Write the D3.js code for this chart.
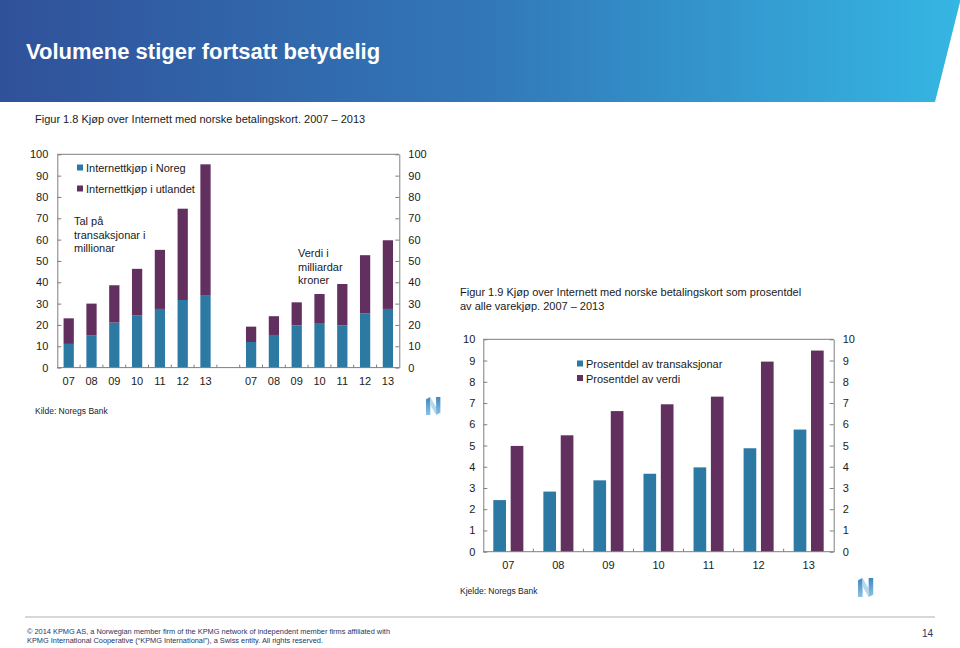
<!DOCTYPE html>
<html>
<head>
<meta charset="utf-8">
<script src="https://cdn.jsdelivr.net/npm/d3@7"></script>
<style>
html,body{margin:0;padding:0;background:#fff;}
svg{display:block;font-family:"Liberation Sans",Arial,sans-serif;}
</style>
</head>
<body>
<svg id="chart" width="960" height="648"></svg>
<script>
// ---------- DATA ----------
const years = ["07","08","09","10","11","12","13"];
// Figur 1.8 — transaksjonar (millionar)
const txNoreg   = [11.1, 15.2, 21.1, 24.4, 27.5, 31.7, 33.7];
const txUtland  = [12.0, 14.8, 17.5, 21.9, 27.7, 42.8, 61.6];
// Figur 1.8 — verdi (milliardar kroner)
const valNoreg  = [12.0, 15.3, 19.8, 20.9, 19.8, 25.5, 27.5];
const valUtland = [7.2, 8.8, 10.8, 13.6, 19.4, 27.2, 32.2];
// Figur 1.9 — prosentdel
const pctTx  = [2.43, 2.83, 3.36, 3.67, 3.97, 4.87, 5.75];
const pctVal = [4.98, 5.48, 6.62, 6.94, 7.30, 8.95, 9.47];
const yTicks1 = [0,10,20,30,40,50,60,70,80,90,100];
const yTicks2 = [0,1,2,3,4,5,6,7,8,9,10];
const legend1 = ["Internettkjøp i Noreg","Internettkjøp i utlandet"];
const legend2 = ["Prosentdel av transaksjonar","Prosentdel av verdi"];

const BLUE = "#2c79a3", PURPLE = "#62305f", AXIS = "#7f7f7f", TXT = "#1a1a1a";
const FS = 11;

const svg = d3.select("#chart");

// ---------- HEADER ----------
const defs = svg.append("defs");
const grad = defs.append("linearGradient").attr("id","hdr").attr("x1","0").attr("x2","1").attr("y1","0").attr("y2","0");
grad.append("stop").attr("offset","0").attr("stop-color","#30519a");
grad.append("stop").attr("offset","0.5").attr("stop-color","#3277b8");
grad.append("stop").attr("offset","1").attr("stop-color","#35b6e3");
svg.append("path").attr("d","M0,0 L960,0 L960,2 L935,102 L0,102 Z").attr("fill","url(#hdr)");
svg.append("text").attr("x",26).attr("y",59).attr("fill","#fff")
  .attr("font-size",22).attr("font-weight","bold").text("Volumene stiger fortsatt betydelig");

// ---------- CHART 1 ----------
const c1 = {left:57.3, right:399.3, top:154.3, bottom:367.6};
const slots = years.map(d=>"a"+d).concat(["gap"]).concat(years.map(d=>"b"+d));
const x1 = d3.scaleBand().domain(slots).range([c1.left,c1.right]).paddingInner(0.55).paddingOuter(0.275);
const y1 = d3.scaleLinear().domain([0,100]).range([c1.bottom,c1.top]);

svg.append("text").attr("x",35).attr("y",123).attr("font-size",FS).attr("fill",TXT)
  .text("Figur 1.8 Kjøp over Internett med norske betalingskort. 2007 – 2013");

function stackedGroup(prefix, noreg, utl){
  years.forEach((yr,i)=>{
    const x = x1(prefix+yr), w = x1.bandwidth();
    svg.append("rect").attr("x",x).attr("width",w)
      .attr("y",y1(noreg[i])).attr("height",y1(0)-y1(noreg[i])).attr("fill",BLUE);
    svg.append("rect").attr("x",x).attr("width",w)
      .attr("y",y1(noreg[i]+utl[i])).attr("height",y1(noreg[i])-y1(noreg[i]+utl[i])).attr("fill",PURPLE);
  });
}
stackedGroup("a",txNoreg,txUtland);
stackedGroup("b",valNoreg,valUtland);

function frame(c){
  svg.append("line").attr("x1",c.left).attr("x2",c.right).attr("y1",c.top).attr("y2",c.top)
    .attr("stroke",AXIS).attr("stroke-width",1);
}
frame(c1);

function styleAxis(g){
  g.selectAll("path.domain").attr("stroke",AXIS);
  g.selectAll(".tick line").attr("stroke",AXIS);
  g.selectAll("text").attr("fill",TXT).attr("font-family","Liberation Sans, Arial, sans-serif").attr("font-size",FS);
}
styleAxis(svg.append("g").attr("transform",`translate(${c1.left},0)`)
  .call(d3.axisLeft(y1).tickValues(yTicks1).tickSizeInner(-4).tickSizeOuter(0).tickPadding(9)));
styleAxis(svg.append("g").attr("transform",`translate(${c1.right},0)`)
  .call(d3.axisRight(y1).tickValues(yTicks1).tickSizeInner(-4).tickSizeOuter(0).tickPadding(9)));
// x axis: line + ticks at slot boundaries + labels
const xa1 = svg.append("g");
xa1.append("line").attr("x1",c1.left).attr("x2",c1.right).attr("y1",c1.bottom).attr("y2",c1.bottom).attr("stroke",AXIS);
const step1 = x1.step();
d3.range(1,slots.length).forEach(k=>{
  const xx = c1.left + k*step1;
  xa1.append("line").attr("x1",xx).attr("x2",xx).attr("y1",c1.bottom).attr("y2",c1.bottom-3).attr("stroke",AXIS);
});
slots.filter(s=>s!=="gap").forEach(s=>{
  xa1.append("text").attr("x",x1(s)+x1.bandwidth()/2).attr("y",385).attr("text-anchor","middle")
    .attr("font-size",FS).attr("fill",TXT).text(s.slice(1));
});

// legend 1
legend1.forEach((t,i)=>{
  const yy = 168 + i*21;
  svg.append("rect").attr("x",77).attr("y",yy-3.5).attr("width",6).attr("height",6).attr("fill",i===0?BLUE:PURPLE);
  svg.append("text").attr("x",86).attr("y",yy+4).attr("font-size",FS).attr("fill",TXT).text(t);
});
// annotations
[["Tal på",225],["transaksjonar i",239],["millionar",252]].forEach(([t,y])=>
  svg.append("text").attr("x",74).attr("y",y).attr("font-size",FS).attr("fill",TXT).text(t));
[["Verdi i",257],["milliardar",270.5],["kroner",284]].forEach(([t,y])=>
  svg.append("text").attr("x",298).attr("y",y).attr("font-size",FS).attr("fill",TXT).text(t));
svg.append("text").attr("x",35).attr("y",414).attr("font-size",8.5).attr("fill",TXT).text("Kilde: Noregs Bank");

// ---------- CHART 2 ----------
const c2 = {left:483.3, right:833.7, top:339.3, bottom:551.7};
const x2 = d3.scaleBand().domain(years).range([c2.left,c2.right]).paddingInner(0.4).paddingOuter(0.2);
const xs = d3.scaleBand().domain(["tx","val"]).range([0,x2.bandwidth()]).paddingInner(0.27);
const y2 = d3.scaleLinear().domain([0,10]).range([c2.bottom,c2.top]);

svg.append("text").attr("x",460).attr("y",296).attr("font-size",FS).attr("fill",TXT)
  .text("Figur 1.9 Kjøp over Internett med norske betalingskort som prosentdel");
svg.append("text").attr("x",460).attr("y",310).attr("font-size",FS).attr("fill",TXT)
  .text("av alle varekjøp. 2007 – 2013");

years.forEach((yr,i)=>{
  [["tx",pctTx[i],BLUE],["val",pctVal[i],PURPLE]].forEach(([k,v,c])=>{
    svg.append("rect").attr("x",x2(yr)+xs(k)).attr("width",xs.bandwidth())
      .attr("y",y2(v)).attr("height",y2(0)-y2(v)).attr("fill",c);
  });
});
frame(c2);
styleAxis(svg.append("g").attr("transform",`translate(${c2.left},0)`)
  .call(d3.axisLeft(y2).tickValues(yTicks2).tickSizeInner(-4).tickSizeOuter(0).tickPadding(8)));
styleAxis(svg.append("g").attr("transform",`translate(${c2.right},0)`)
  .call(d3.axisRight(y2).tickValues(yTicks2).tickSizeInner(-4).tickSizeOuter(0).tickPadding(9)));
const xa2 = svg.append("g");
xa2.append("line").attr("x1",c2.left).attr("x2",c2.right).attr("y1",c2.bottom).attr("y2",c2.bottom).attr("stroke",AXIS);
d3.range(1,years.length).forEach(k=>{
  const xx = c2.left + k*x2.step();
  xa2.append("line").attr("x1",xx).attr("x2",xx).attr("y1",c2.bottom).attr("y2",c2.bottom-3).attr("stroke",AXIS);
});
years.forEach(yr=>{
  xa2.append("text").attr("x",x2(yr)+x2.bandwidth()/2).attr("y",569).attr("text-anchor","middle")
    .attr("font-size",FS).attr("fill",TXT).text(yr);
});
legend2.forEach((t,i)=>{
  const yy = 364 + i*14.5;
  svg.append("rect").attr("x",577).attr("y",yy-3.5).attr("width",6).attr("height",6).attr("fill",i===0?BLUE:PURPLE);
  svg.append("text").attr("x",586).attr("y",yy+4).attr("font-size",FS).attr("fill",TXT).text(t);
});
svg.append("text").attr("x",460).attr("y",594).attr("font-size",8.5).attr("fill",TXT).text("Kjelde: Noregs Bank");

// ---------- N logos ----------
function nLogo(x,y,h,id){
  const w = h*0.8;
  const lg = defs.append("linearGradient").attr("id",id).attr("x1","0").attr("x2","0").attr("y1","0").attr("y2","1");
  lg.append("stop").attr("offset","0").attr("stop-color","#3f86bf");
  lg.append("stop").attr("offset","1").attr("stop-color","#8cc3e3");
  const g = svg.append("g").attr("transform",`translate(${x},${y})`);
  g.append("path").attr("d",`M0,${h*0.12} L${w*0.3},0 L${w*0.3},${h} L0,${h} Z`).attr("fill",`url(#${id})`);
  g.append("path").attr("d",`M${w*0.3},0 L${w*0.7},${h*0.55} L${w*0.7},${h} L${w*0.3},${h*0.45} Z`).attr("fill","#b4d9ee");
  g.append("path").attr("d",`M${w*0.7},0 L${w},0 L${w},${h*0.88} L${w*0.7},${h} Z`).attr("fill",`url(#${id})`);
}
nLogo(426,397,18,"n1");
nLogo(858,578,19,"n2");

// ---------- FOOTER ----------
svg.append("line").attr("x1",25).attr("x2",935).attr("y1",617).attr("y2",617).attr("stroke","#b0b0b0");
svg.append("text").attr("x",27).attr("y",633.5).attr("font-size",7).attr("fill","#1f3564")
  .attr("textLength",363).attr("lengthAdjust","spacingAndGlyphs")
  .text("© 2014 KPMG AS, a Norwegian member firm of the KPMG network of independent member firms affiliated with");
svg.append("text").attr("x",27).attr("y",642.5).attr("font-size",7).attr("fill","#1f3564")
  .attr("textLength",296).attr("lengthAdjust","spacingAndGlyphs")
  .text("KPMG International Cooperative (“KPMG International”), a Swiss entity. All rights reserved.");
svg.append("text").attr("x",933).attr("y",637).attr("text-anchor","end").attr("font-size",10).attr("fill","#1f3564").text("14");
</script>
</body>
</html>
